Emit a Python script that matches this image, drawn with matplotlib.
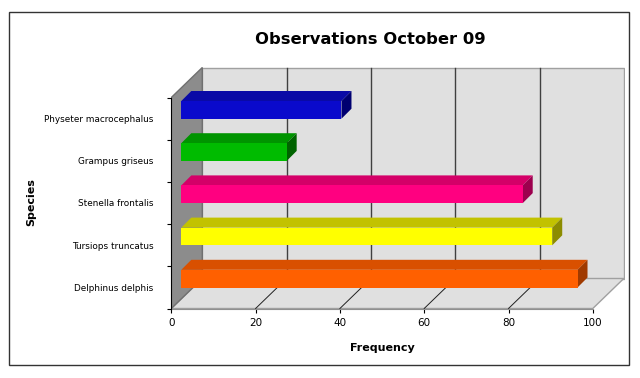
import matplotlib
matplotlib.use('Agg')
import matplotlib.pyplot as plt
from matplotlib.patches import Polygon, Rectangle

# data (bottom to top)
species = ['Delphinus delphis', 'Tursiops truncatus', 'Stenella frontalis',
           'Grampus griseus', 'Physeter macrocephalus']
freq = [94, 88, 81, 25, 38]
front_cols = ['#FF6000', '#FFFF00', '#FF0080', '#00BB00', '#0A0ACC']
top_cols = ['#D95000', '#C2C200', '#D40068', '#009400', '#0A0AA6']
side_cols = ['#A03A00', '#8C8C00', '#9C004E', '#006400', '#000070']
xticks = [0, 20, 40, 60, 80, 100]

W, H = 640, 378
SX, SY = 4.215, 42.2          # px per data unit
DX, DY = 31 / SX, 30 / SY     # depth of the box
BX, BY = 10 / SX, 10 / SY     # bar front offset / bar depth

fig = plt.figure(figsize=(6.4, 3.78), dpi=100)
fig.patch.set_facecolor('white')

xmax, ymax = 107.6, 5.76
ax = fig.add_axes([171.3 / W, (H - 308.5) / H, xmax * SX / W, ymax * SY / H])
ax.set_xlim(0, xmax)
ax.set_ylim(0, ymax)
ax.set_facecolor('none')
n = len(species)

# walls
ax.add_patch(Polygon([(DX, DY), (100 + DX, DY), (100 + DX, n + DY), (DX, n + DY)],
                     closed=True, fc='#E0E0E0', ec='#A0A0A0', lw=1, zorder=1))
ax.add_patch(Polygon([(0, 0), (100, 0), (100 + DX, DY), (DX, DY)],
                     closed=True, fc='#E0E0E0', ec='#A0A0A0', lw=1, zorder=1))
ax.add_patch(Polygon([(0, 0), (DX, DY), (DX, n + DY), (0, n)],
                     closed=True, fc='#8C8C8C', ec='#707070', lw=1, zorder=1.5))

for v in xticks[1:-1]:
    ax.plot([v + DX, v + DX], [DY, n + DY], color='#404040', lw=1, zorder=2)
    ax.plot([v, v + DX], [0, DY], color='#202020', lw=0.7, zorder=2)

# bars
for i, (v, fc, tc, sc) in enumerate(zip(freq, front_cols, top_cols, side_cols)):
    x0, y0 = BX, i + 0.26 + BY
    h = 0.42
    ax.add_patch(Polygon([(x0, y0 + h), (x0 + v, y0 + h), (x0 + v + BX, y0 + h + BY),
                          (x0 + BX, y0 + h + BY)], closed=True, fc=tc, ec='none', zorder=3))
    ax.add_patch(Polygon([(x0 + v, y0), (x0 + v + BX, y0 + BY), (x0 + v + BX, y0 + h + BY),
                          (x0 + v, y0 + h)], closed=True, fc=sc, ec='none', zorder=3))
    ax.add_patch(Rectangle((x0, y0), v, h, fc=fc, ec='none', zorder=4))

for s in ['top', 'right']:
    ax.spines[s].set_visible(False)
ax.spines['left'].set_bounds(0, n)
ax.spines['left'].set_color('black')
ax.spines['bottom'].set_bounds(0, 100)
ax.spines['bottom'].set_color('#909090')
ax.spines['left'].set_zorder(5)

ax.set_xticks(xticks)
ax.set_xticklabels([str(t) for t in xticks], fontsize=7.5)
ax.tick_params(axis='x', direction='out', length=3, width=0.8, pad=4)
ax.set_yticks(range(n + 1))
ax.set_yticklabels([])
ax.tick_params(axis='y', which='major', direction='out', length=3, width=0.8)
ax.set_yticks([i + 0.5 for i in range(n)], minor=True)
ax.set_yticklabels(species, minor=True, fontsize=6.4)
ax.tick_params(axis='y', which='minor', length=0, pad=13)

fig.text(370 / W, 1 - 40 / H, 'Observations October 09', ha='center', va='center',
         fontsize=11.8, fontweight='bold')
fig.text(382 / W, 1 - 348 / H, 'Frequency', ha='center', va='center',
         fontsize=8, fontweight='bold')
fig.text(31 / W, 1 - 202 / H, 'Species', ha='center', va='center', rotation=90,
         fontsize=8, fontweight='bold')

fig.patches.append(Rectangle((9 / W, 1 - 365 / H), 620 / W, 353 / H, fill=False,
                             ec='#333333', lw=1.0, transform=fig.transFigure))

fig.savefig('out.png', dpi=100)
